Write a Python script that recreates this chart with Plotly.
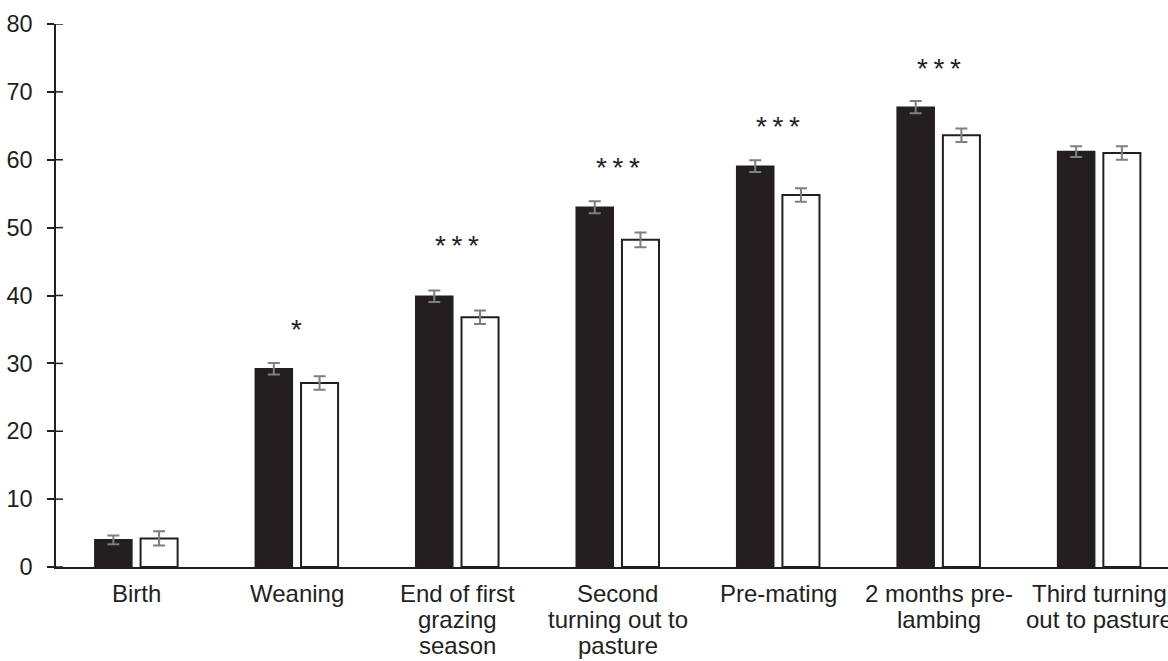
import plotly.graph_objects as go

# Body weight by stage, two groups (means with standard errors)
stages = [
    ["Birth"],
    ["Weaning"],
    ["End of first", "grazing", "season"],
    ["Second", "turning out to", "pasture"],
    ["Pre-mating"],
    ["2 months pre-", "lambing"],
    ["Third turning", "out to pasture"],
]
group_a = [4.0, 29.2, 39.9, 53.0, 59.05, 67.75, 61.2]
group_a_se = [0.65, 0.85, 0.85, 0.88, 0.86, 0.9, 0.8]
group_b = [4.2, 27.1, 36.8, 48.2, 54.8, 63.6, 61.0]
group_b_se = [1.05, 1.0, 1.0, 1.08, 1.0, 1.0, 1.0]

# Significance marks and their heights (axis units)
sig_labels = ["", "*", "***", "***", "***", "***", ""]
sig_heights = [0, 35.3, 47.7, 59.2, 65.2, 73.8, 0]

y_ticks = [0, 10, 20, 30, 40, 50, 60, 70, 80]

ink = "#231f20"
err_col = "#7f7f7f"
font_family = "Liberation Sans, Arial, sans-serif"
label_size = 24
line_step = 26  # px between label lines

fig_w, fig_h = 1168, 661
m_l, m_r, m_t, m_b = 56, 0, 24, 94
plot_w = fig_w - m_l - m_r

x_idx = list(range(len(stages)))

fig = go.Figure()
fig.add_trace(go.Bar(
    x=x_idx, y=group_a,
    marker=dict(color=ink, line=dict(color=ink, width=1.5)),
    error_y=dict(type="data", array=group_a_se, color=err_col, thickness=2, width=6),
    showlegend=False,
))
fig.add_trace(go.Bar(
    x=x_idx, y=group_b,
    marker=dict(color="white", line=dict(color=ink, width=2)),
    error_y=dict(type="data", array=group_b_se, color=err_col, thickness=2, width=6),
    showlegend=False,
))

# Significance asterisks above each pair
for i, (lab, h) in enumerate(zip(sig_labels, sig_heights)):
    if not lab:
        continue
    fig.add_annotation(
        x=i, y=h, xref="x", yref="y",
        text="\u2009".join(lab),
        showarrow=False, yanchor="middle", xanchor="center",
        font=dict(family=font_family, size=28, color=ink),
        yshift=-2,
    )

# Category labels below the axis, one annotation per text line
for i, lines in enumerate(stages):
    for k, line in enumerate(lines):
        fig.add_annotation(
            x=i, y=0, xref="x", yref="paper",
            text=line, showarrow=False,
            xanchor="center", yanchor="top",
            yshift=-(11 + k * line_step),
            font=dict(family=font_family, size=label_size, color=ink),
        )

# Short inner tick marks so the y ticks cross the axis line
for t in y_ticks:
    fig.add_shape(
        type="line", xref="x domain", yref="y",
        x0=0, x1=7 / plot_w, y0=t, y1=t,
        line=dict(color=ink, width=1.5), layer="above",
    )

fig.update_layout(
    width=fig_w, height=fig_h,
    margin=dict(l=m_l, r=m_r, t=m_t, b=m_b, pad=0),
    paper_bgcolor="white", plot_bgcolor="white",
    barmode="group", bargap=0.43, bargroupgap=0.19,
    font=dict(family=font_family, size=23, color=ink),
    xaxis=dict(
        range=[-0.5, 6.43],
        tickmode="array", tickvals=x_idx, showticklabels=False,
        showline=True, linecolor=ink, linewidth=1.5,
        ticks="", showgrid=False, zeroline=False,
    ),
    yaxis=dict(
        range=[0, 80], tickmode="array", tickvals=y_ticks,
        ticktext=[str(t) for t in y_ticks],
        showline=True, linecolor=ink, linewidth=1.5,
        ticks="outside", ticklen=7, tickwidth=1.5, tickcolor=ink,
        showgrid=False, zeroline=False,
        tickfont=dict(family=font_family, size=23.5, color=ink),
        ticklabelstandoff=10,
    ),
)

fig.write_html("out.html")
